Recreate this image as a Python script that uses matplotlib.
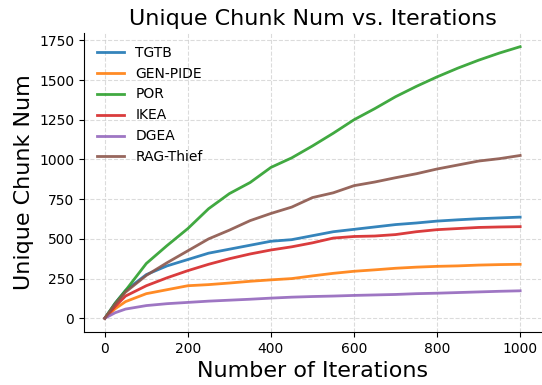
import matplotlib
matplotlib.use("Agg")
import matplotlib.pyplot as plt

iterations = [0, 25, 50, 100, 150, 200, 250, 300, 350, 400, 450, 500, 550, 600, 650, 700, 750, 800, 850, 900, 950, 1000]

tgtb = [0, 95, 175, 275, 330, 370, 410, 435, 460, 485, 495, 520, 545, 560, 575, 590, 600, 612, 620, 627, 632, 637]
gen_pide = [0, 60, 105, 155, 180, 205, 212, 222, 233, 242, 250, 267, 283, 296, 305, 315, 322, 327, 330, 335, 338, 340]
por = [0, 95, 175, 345, 458, 565, 690, 785, 855, 950, 1010, 1085, 1165, 1250, 1320, 1395, 1460, 1520, 1575, 1625, 1670, 1710]
ikea = [0, 75, 140, 205, 255, 300, 340, 375, 405, 430, 450, 475, 505, 515, 518, 527, 545, 558, 565, 572, 575, 577]
dgea = [0, 35, 58, 80, 92, 100, 108, 114, 120, 127, 133, 137, 140, 144, 147, 150, 155, 158, 162, 166, 170, 173]
rag_thief = [0, 90, 165, 270, 350, 425, 500, 555, 615, 660, 700, 760, 790, 835, 858, 885, 910, 940, 965, 990, 1005, 1025]

series = [("TGTB", tgtb), ("GEN-PIDE", gen_pide), ("POR", por),
          ("IKEA", ikea), ("DGEA", dgea), ("RAG-Thief", rag_thief)]

fig = plt.figure(figsize=(5.42, 3.85), dpi=100)
ax = fig.add_axes([0.155, 0.138, 0.843, 0.776])

for name, vals in series:
    ax.plot(iterations, vals, label=name, linewidth=2, alpha=0.9)

ax.set_title("Unique Chunk Num vs. Iterations", fontsize=16)
ax.set_xlabel("Number of Iterations", fontsize=16)
ax.set_ylabel("Unique Chunk Num", fontsize=16)
ax.set_yticks([0, 250, 500, 750, 1000, 1250, 1500, 1750])
ax.set_xticks([0, 200, 400, 600, 800, 1000])
ax.grid(True, linestyle="--", color="#cccccc", alpha=0.7, linewidth=0.8)
ax.spines["top"].set_visible(False)
ax.spines["right"].set_visible(False)
ax.legend(loc="upper left", frameon=False, fontsize=10)

fig.savefig("out.png", dpi=100)
